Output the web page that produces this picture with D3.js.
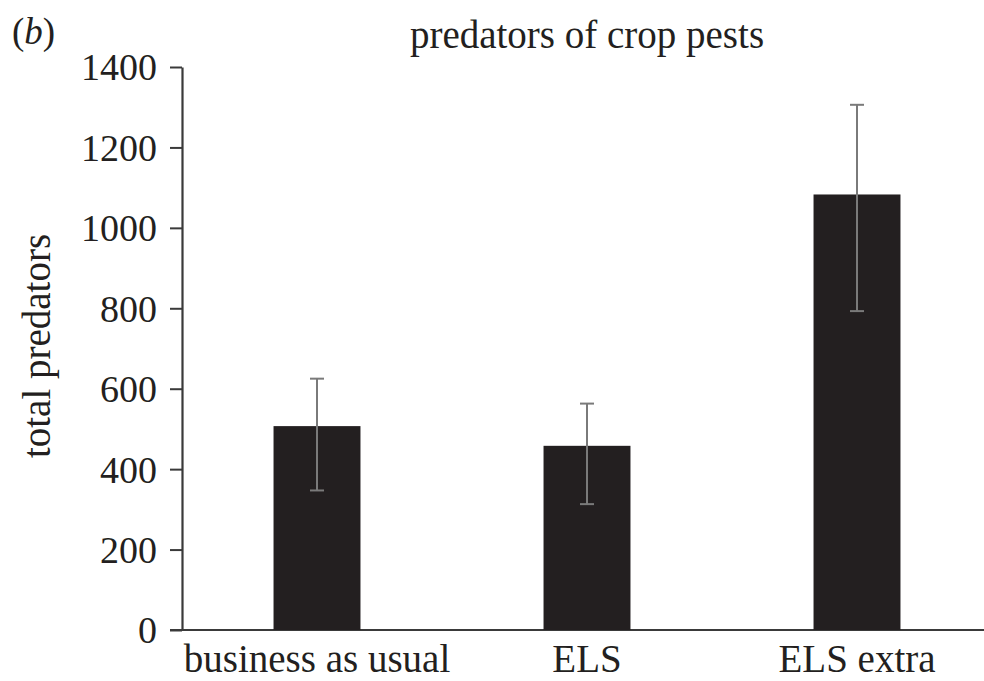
<!DOCTYPE html>
<html>
<head>
<meta charset="utf-8">
<script src="https://cdn.jsdelivr.net/npm/d3@7"></script>
<style>
  html, body { margin: 0; padding: 0; background: #fff; }
  svg { display: block; }
  text { font-family: "Liberation Serif", "Times New Roman", serif; fill: #231f20; }
</style>
</head>
<body>
<svg id="chart" width="984" height="681"></svg>
<script>
// Mean total predators per scheme, with upper/lower error bounds
const categories = ["business as usual", "ELS", "ELS extra"];
const means = [507, 458, 1083];
const upper = [625, 563, 1306];
const lower = [347, 313, 793];
const yTicks = [0, 200, 400, 600, 800, 1000, 1200, 1400];

const svg = d3.select("#chart");
const x0 = 182, yTop = 67, yBottom = 630;

const x = d3.scaleBand()
  .domain(categories)
  .range([x0, 992])
  .paddingInner(0.678)
  .paddingOuter(0.339);

const y = d3.scaleLinear().domain([0, 1400]).range([yBottom, yTop]);

// y axis
const yAxis = svg.append("g")
  .attr("transform", `translate(${x0},0)`)
  .call(d3.axisLeft(y).tickValues(yTicks).tickFormat(d3.format("d"))
    .tickSize(12).tickPadding(13).tickSizeOuter(0));
yAxis.select(".domain").attr("stroke", "#3a3a3a").attr("stroke-width", 2.2);
yAxis.selectAll(".tick line").attr("stroke", "#3a3a3a").attr("stroke-width", 2);
yAxis.selectAll(".tick text")
  .attr("font-size", 38)
  .attr("font-family", "Liberation Serif, serif")
  .attr("fill", "#231f20")
  .attr("dy", "0.34em");

// x axis baseline
svg.append("line")
  .attr("x1", x0 - 12).attr("x2", 984)
  .attr("y1", y(0)).attr("y2", y(0))
  .attr("stroke", "#3a3a3a").attr("stroke-width", 2.2);

// bars
svg.append("g").selectAll("rect")
  .data(categories)
  .join("rect")
  .attr("x", d => x(d))
  .attr("width", x.bandwidth())
  .attr("y", (d, i) => y(means[i]))
  .attr("height", (d, i) => y(0) - y(means[i]))
  .attr("fill", "#231f20");

// error bars
const err = svg.append("g").attr("stroke", "#7a7a7a").attr("stroke-width", 2);
categories.forEach((c, i) => {
  const cx = x(c) + x.bandwidth() / 2;
  err.append("line").attr("x1", cx).attr("x2", cx).attr("y1", y(upper[i])).attr("y2", y(lower[i]));
  err.append("line").attr("x1", cx - 7).attr("x2", cx + 7).attr("y1", y(upper[i])).attr("y2", y(upper[i]));
  err.append("line").attr("x1", cx - 7).attr("x2", cx + 7).attr("y1", y(lower[i])).attr("y2", y(lower[i]));
});

// category labels
svg.append("g").selectAll("text")
  .data(categories)
  .join("text")
  .attr("x", d => x(d) + x.bandwidth() / 2)
  .attr("y", 672)
  .attr("text-anchor", "middle")
  .attr("font-size", 39)
  .text(d => d);

// title
svg.append("text")
  .attr("x", 587).attr("y", 48)
  .attr("text-anchor", "middle")
  .attr("font-size", 39)
  .text("predators of crop pests");

// panel letter
svg.append("text")
  .attr("x", 12).attr("y", 44)
  .attr("font-size", 37)
  .html('(<tspan font-style="italic">b</tspan>)');

// y axis title
svg.append("text")
  .attr("transform", "translate(50,346) rotate(-90)")
  .attr("text-anchor", "middle")
  .attr("font-size", 39)
  .text("total predators");
</script>
</body>
</html>
